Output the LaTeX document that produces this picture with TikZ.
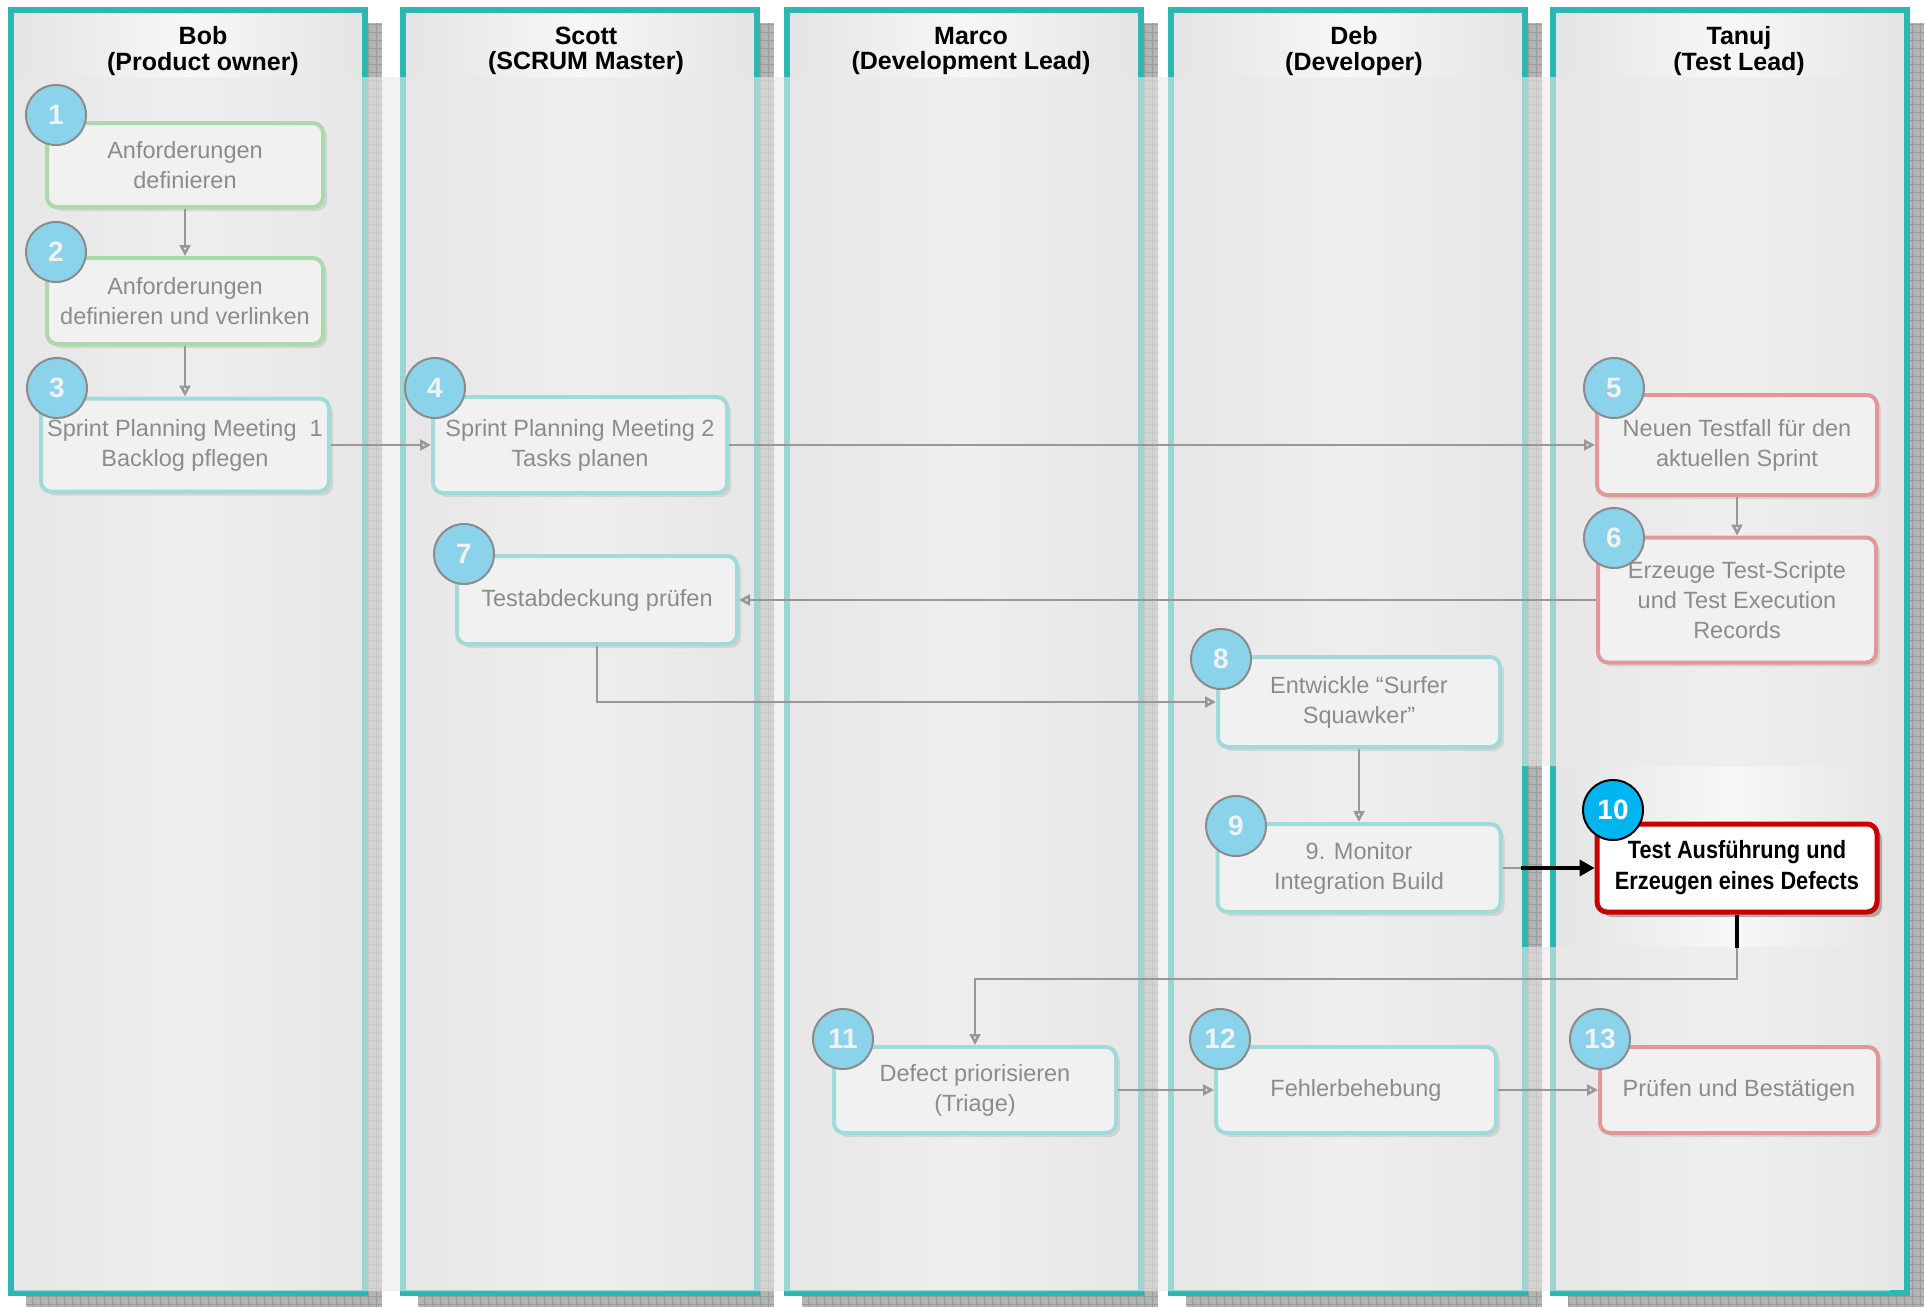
\documentclass[tikz,border=0pt]{standalone}
\usepackage{fontspec}
\setmainfont{Liberation Sans}
\newfontfamily\narrowsans[FakeStretch=0.87]{Liberation Sans}
\usetikzlibrary{arrows.meta,shadows}
\definecolor{laneteal}{HTML}{2DB7B2}
\definecolor{lanegray}{HTML}{E4E4E4}
\definecolor{lanelight}{HTML}{F7F7F7}
\definecolor{shadowgray}{HTML}{B4B4B4}
\definecolor{gridgray}{HTML}{9A9A9A}
\definecolor{boxgreen}{HTML}{4CC24C}
\definecolor{boxteal}{HTML}{33C4C4}
\definecolor{boxred}{HTML}{D42020}
\definecolor{hotred}{HTML}{C80000}
\definecolor{badgeblue}{HTML}{00B4F0}
\definecolor{flowgray}{HTML}{202020}
\definecolor{fadec}{HTML}{E9E9E9}

\tikzset{
  lanehead/.style={align=center, font=\bfseries\fontsize{25}{25.5}\selectfont},
  taskbox/.style={draw, line width=4pt, rounded corners=10pt, fill=white, align=center, inner sep=0pt,
    font=\fontsize{23.5}{30}\selectfont,
    drop shadow={shadow xshift=4pt, shadow yshift=-4pt, fill=gray, opacity=0.5}},
  greenbox/.style={taskbox, draw=boxgreen},
  tealbox/.style={taskbox, draw=boxteal},
  redbox/.style={taskbox, draw=boxred},
  hotbox/.style={draw=hotred, line width=5pt, rounded corners=10pt, fill=white, align=center, inner sep=0pt,
    font=\narrowsans\bfseries\fontsize{25}{31}\selectfont,
    drop shadow={shadow xshift=5pt, shadow yshift=-5pt, fill=gray, opacity=0.6}},
  badge/.style={circle, fill=badgeblue, draw=black, line width=2pt, minimum size=60pt, inner sep=0pt,
    text=white, font=\bfseries\fontsize{28}{28}\selectfont},
  flow/.style={-{Triangle[open, length=11pt, width=11pt]}, line width=2.5pt, flowgray},
  hotflow/.style={-{Triangle[length=15pt, width=16pt]}, line width=4pt, black},
  hotline/.style={line width=4pt, black}
}

\begin{document}
\begin{tikzpicture}[x=1pt, y=-1pt]
  \useasboundingbox (0,0) rectangle (1927,1307);
  \foreach \lx/\who/\role/\tx in {11/Bob/Product owner/203, 403/Scott/SCRUM Master/586,
      787/Marco/Development Lead/971, 1171/Deb/Developer/1354, 1553/Tanuj/Test Lead/1739}{
    \fill[shadowgray] (\lx+15,1307) rectangle (\lx+371,23);
    \draw[gridgray, step=8pt, line width=0.5pt] (\lx+15,1307) grid (\lx+371,23);
    \shade[left color=lanegray, right color=lanegray, middle color=lanelight] (\lx,10) rectangle (\lx+354,1293);
    \draw[laneteal, line width=6pt] (\lx,10) rectangle (\lx+354,1293);
    \node[lanehead] (head-\who) at (\tx,51) {\who\\(\role)};
  }

  \node[greenbox, minimum width=276, minimum height=84] (n1) at (185,165) {Anforderungen\\definieren};
  \node[greenbox, minimum width=276, minimum height=86] (n2) at (185,301) {Anforderungen\\definieren und verlinken};
  \node[tealbox, minimum width=288, minimum height=93] (n3) at (185,445) {Sprint Planning Meeting~~1\\Backlog pflegen};
  \node[tealbox, minimum width=294, minimum height=96] (n4) at (580,445) {Sprint Planning Meeting 2\\Tasks planen};
  \node[redbox, minimum width=280, minimum height=100] (n5) at (1737,445) {Neuen Testfall für den\\aktuellen Sprint};
  \node[redbox, minimum width=278, minimum height=125] (n6) at (1737,600) {Erzeuge Test-Scripte\\und Test Execution\\Records};
  \node[tealbox, minimum width=280, minimum height=88] (n7) at (597,600) {Testabdeckung prüfen};
  \node[tealbox, minimum width=282, minimum height=90] (n8) at (1359,702) {Entwickle “Surfer\\Squawker”};
  \node[tealbox, minimum width=283, minimum height=88] (n9) at (1359,868) {9. Monitor\\Integration Build};
  \node[hotbox, minimum width=280, minimum height=88] (n10) at (1737,868) {Test Ausführung und\\Erzeugen eines Defects};
  \node[tealbox, minimum width=282, minimum height=86] (n11) at (975,1090) {Defect priorisieren\\(Triage)};
  \node[tealbox, minimum width=280, minimum height=86] (n12) at (1356,1090) {Fehlerbehebung};
  \node[redbox, minimum width=278, minimum height=86] (n13) at (1739,1090) {Prüfen und Bestätigen};

  \foreach \i/\bx/\by in {1/56/115, 2/56/252, 3/57/388, 4/435/388, 5/1614/388, 6/1614/538, 7/464/554,
      8/1221/659, 9/1236/826, 10/1613/810, 11/843/1039, 12/1220/1039, 13/1600/1039}
    \node[badge] (b\i) at (\bx,\by) {\i};

  \draw[flow] (n1) -- (n2);
  \draw[flow] (n2) -- (n3);
  \draw[flow] (n3) -- (n4);
  \draw[flow] (n4) -- (n5);
  \draw[flow] (n5) -- (n6);
  \draw[flow] (n6) -- (n7);
  \draw[flow] (n7) |- (n8);
  \draw[flow] (n8) -- (n9);
  \draw[flow] (n9) -- (n10);
  \coordinate (k10) at (1737,979);
  \draw[flow] (n10) -- (k10) -| (n11);
  \draw[flow] (n11) -- (n12);
  \draw[flow] (n12) -- (n13);

  \fill[fadec, opacity=0.6, even odd rule] (14,77) rectangle (1890,1291) (1521,766) rectangle (1888,947);

  \begin{scope}
    \clip (1521,766) rectangle (1888,947);
    \draw[hotflow] (n9) -- (n10);
    \draw[hotline] (n10) -- (k10);
  \end{scope}
\end{tikzpicture}
\end{document}
